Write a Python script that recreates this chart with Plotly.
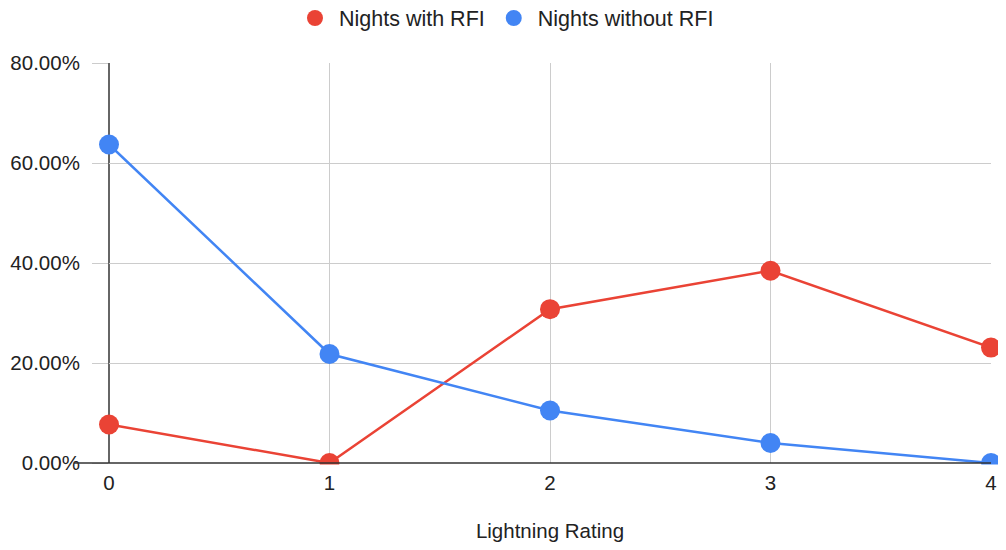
import plotly.graph_objects as go

categories = [0, 1, 2, 3, 4]
with_rfi = [7.69, 0.0, 30.77, 38.46, 23.08]
without_rfi = [63.7, 21.8, 10.5, 4.0, 0.0]
y_ticks = [0, 20, 40, 60, 80]
y_tick_labels = ["0.00%", "20.00%", "40.00%", "60.00%", "80.00%"]
series_names = ["Nights with RFI", "Nights without RFI"]

RED = "#EA4335"
BLUE = "#4285F4"
FONT = "Liberation Sans, Arial, sans-serif"
FS = 20.5

fig = go.Figure()
for name, vals, col in [(series_names[0], with_rfi, RED), (series_names[1], without_rfi, BLUE)]:
    fig.add_trace(go.Scatter(x=categories, y=vals, name=name, mode="lines+markers", showlegend=False,
                             cliponaxis=False,
                             line=dict(color=col, width=2.5), marker=dict(size=20, color=col)))
for name, col in [(series_names[0], RED), (series_names[1], BLUE)]:
    fig.add_trace(go.Scatter(x=[None], y=[None], name=name, mode="markers",
                             marker=dict(size=20, color=col)))

# the page body adds an 8 px margin, so the figure is sized to the visible 990 x 534 area
fig.update_layout(
    width=990, height=534,
    margin=dict(l=101, r=7, t=55, b=79, autoexpand=False),
    plot_bgcolor="white", paper_bgcolor="white",
    font=dict(family=FONT, size=FS, color="#222"),
    showlegend=True,
    legend=dict(orientation="h", x=0.502, xanchor="center", xref="container",
                y=1.1125, yanchor="middle", yref="paper", font=dict(size=21.5, color="#222"),
                traceorder="normal", itemwidth=38),
    xaxis=dict(range=[0, 4], tickvals=categories, showgrid=True, gridcolor="#cccccc", gridwidth=1.3,
               zeroline=False, showline=False, automargin=False,
               ticks="", ticklabelstandoff=5,
               title=dict(text="Lightning Rating", font=dict(size=FS, color="#222"), standoff=37)),
    yaxis=dict(range=[0, 80], tickvals=y_ticks, ticktext=y_tick_labels, showgrid=True,
               gridcolor="#cccccc", gridwidth=1.3, zeroline=False, showline=False, automargin=False,
               ticks="outside", ticklen=16, tickcolor="#cccccc", tickwidth=1.3, ticklabelstandoff=8),
)
# white mask below the x axis: markers sitting on 0 are cut at the axis, as in the reference
fig.add_shape(type="rect", xref="paper", yref="paper", x0=0.03, x1=1.02, y0=-0.004, y1=-0.03,
              fillcolor="white", line=dict(width=0), layer="above")
# axis lines
fig.add_shape(type="line", xref="paper", yref="paper", x0=0, x1=0, y0=0, y1=1,
              line=dict(color="#333", width=1.5), layer="below")
fig.add_shape(type="line", xref="paper", yref="paper", x0=-0.04, x1=1, y0=0, y1=0,
              line=dict(color="#333", width=1.5), layer="above")

fig.write_html("out.html")
